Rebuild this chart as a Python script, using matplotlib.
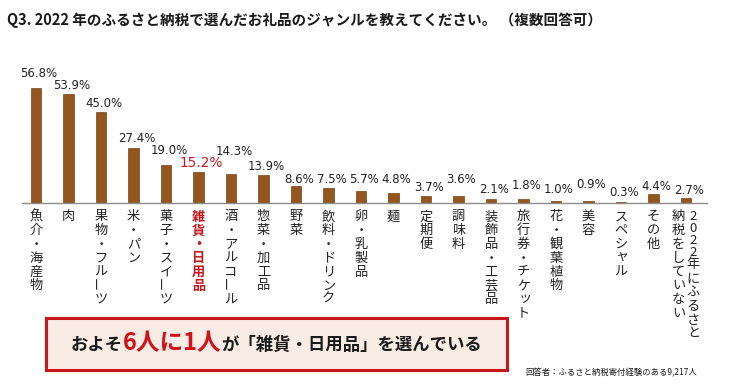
import matplotlib
matplotlib.use('Agg')
import matplotlib.pyplot as plt
from matplotlib.patches import Rectangle
from matplotlib.transforms import blended_transform_factory

plt.rcParams['font.family'] = ['Noto Sans CJK JP', 'DejaVu Sans']

# Data
title = 'Q3. 2022 年のふるさと納税で選んだお礼品のジャンルを教えてください。 （複数回答可）'
categories = ['魚介・海産物', '肉', '果物・フルーツ', '米・パン', '菓子・スイーツ',
              '雑貨・日用品', '酒・アルコール', '惣菜・加工品', '野菜', '飲料・ドリンク',
              '卵・乳製品', '麺', '定期便', '調味料', '装飾品・工芸品', '旅行券・チケット',
              '花・観葉植物', '美容', 'スペシャル', 'その他',
              '2022年にふるさと\n納税をしていない']
values = [56.8, 53.9, 45.0, 27.4, 19.0, 15.2, 14.3, 13.9, 8.6, 7.5, 5.7,
          4.8, 3.7, 3.6, 2.1, 1.8, 1.0, 0.9, 0.3, 4.4, 2.7]
highlight = '雑貨・日用品'
box_parts = ['およそ', '6人に1人', 'が「雑貨・日用品」を選んでいる']
footnote = '回答者：ふるさと納税寄付経験のある9,217人'

# label lift above each bar (pixels), staggered as in the original
label_gap = [11, 4.5, 4.5, 6, 11, 5, 19, 5, 3, 5, 8.5, 10, 5, 12.5, 6, 10, 8, 13, 6, 4, 4]

W, H = 736, 385
BROWN = '#93561f'
RED = '#c8161d'
INK = '#222222'

fig = plt.figure(figsize=(W / 100, H / 100), dpi=100)
ax = fig.add_axes([22 / W, 1 - 203 / H, 685 / W, 130 / H])

x = list(range(len(values)))
ax.bar(x, values, width=0.31, color=BROWN, edgecolor='#7a4416', linewidth=0.5)
ax.set_xlim(-14 / 32.5, 20 + 21 / 32.5)
ax.set_ylim(0, 56.8 * 130 / 115)
ax.set_xticks([])
ax.set_yticks([])
for s in ['top', 'right', 'left']:
    ax.spines[s].set_visible(False)
ax.spines['bottom'].set_color('#8c8c8c')
ax.spines['bottom'].set_linewidth(1)

# value labels
for i, (v, g) in enumerate(zip(values, label_gap)):
    hot = categories[i] == highlight
    ax.annotate(f'{v:.1f}%', (i, v), xytext=(3 * 0.72, g * 0.72),
                textcoords='offset points', ha='center', va='baseline',
                fontsize=9.8 if hot else 8.5, family='DejaVu Sans',
                color=RED if hot else INK, annotation_clip=False)

# vertical category labels, one character at a time
trans = blended_transform_factory(ax.transData, fig.transFigure)
small = set('ャュョッァィゥェォ')
for i, cat in enumerate(categories):
    hot = cat == highlight
    cols = cat.split('\n')
    n = len(cols)
    for j, col in enumerate(cols):
        cx = i + ((n - 1) / 2 - j) * 0.46
        ypx = 210
        for ch in col:
            pitch = 12 if ch.isascii() else 13.8
            yc = ypx + pitch / 2
            dx, dy = (0.05, -1.5) if ch in small else (0, 0)
            kw = dict(transform=trans, fontsize=9.5,
                      fontweight='bold' if hot else 'normal',
                      color=RED if hot else INK)
            if ch == 'ー':
                # long vowel mark stands upright in vertical writing
                ax.text(cx - 0.09, 1 - (yc - 4) / H, ch, rotation=90,
                        rotation_mode='anchor', ha='center', va='center', **kw)
            else:
                ax.text(cx + dx, 1 - (yc + dy) / H, ch, ha='center', va='center', **kw)
            ypx += pitch

# title
fig.text(7 / W, 1 - 20 / H, title, fontsize=10.5, fontweight='bold',
         va='center', ha='left', color='#1a1a1a')

# summary box
fig.add_artist(Rectangle((46 / W, 1 - 370 / H), 461 / W, 52 / H,
                         transform=fig.transFigure, facecolor='#f8ece5',
                         edgecolor=RED, linewidth=2.2))
renderer = fig.canvas.get_renderer()
styles = [(12.5, '#1a1a1a'), (17, '#d0121b'), (12.5, '#1a1a1a')]
texts = []
for part, (fs, c) in zip(box_parts, styles):
    t = fig.text(0, 1 - 350 / H, part, fontsize=fs, color=c, fontweight='bold',
                 ha='left', va='baseline')
    texts.append(t)
widths = [t.get_window_extent(renderer).width for t in texts]
xpos = 276.5 - sum(widths) / 2
for t, w in zip(texts, widths):
    t.set_x(xpos / W)
    xpos += w

fig.text(525 / W, 1 - 373 / H, footnote, fontsize=6, va='center', ha='left',
         color='#1a1a1a')

fig.savefig('out.png', dpi=100)
